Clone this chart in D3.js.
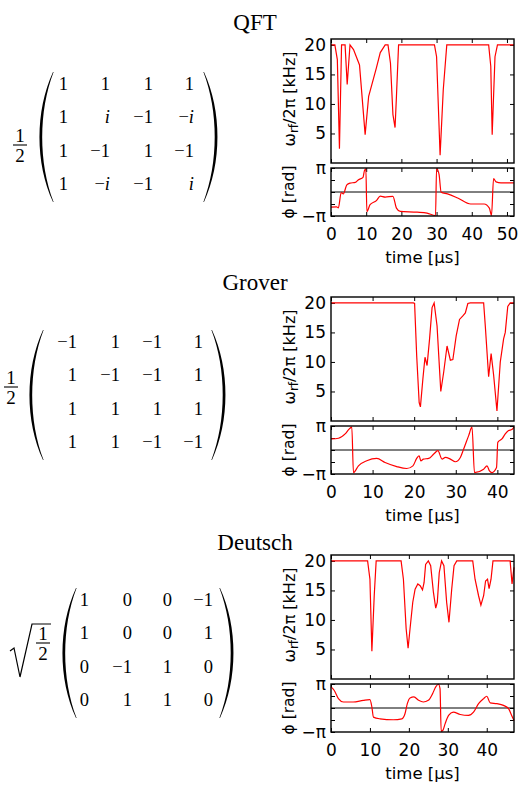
<!DOCTYPE html>
<html>
<head>
<meta charset="utf-8">
<script src="https://cdn.jsdelivr.net/npm/d3@7"></script>
<style>
body { margin: 0; background: #fff; }
</style>
</head>
<body>
<div id="chart"></div>
<script>
var canvasWidth = 519;
var canvasHeight = 785;

var titles = ["QFT", "Grover", "Deutsch"];

// gate matrices, row by row
var qftMatrix = [["1","1","1","1"], ["1","i","−1","−i"], ["1","−1","1","−1"], ["1","−i","−1","i"]];
var groverMatrix = [["−1","1","−1","1"], ["1","−1","−1","1"], ["1","1","1","1"], ["1","1","−1","−1"]];
var deutschMatrix = [["1","0","0","−1"], ["1","0","0","1"], ["0","−1","1","0"], ["0","1","1","0"]];

// axes
var timeEnds = [52, 44, 47];
var timeTicks = [[0,10,20,30,40,50], [0,10,20,30,40], [0,10,20,30,40]];
var freqTicks = [5, 10, 15, 20];
var phaseTicks = [-1, -0.5, 0, 0.5, 1];   // in units of pi

// QFT pulse: time [us], omega_rf/2pi [kHz], phase [pi]
var qftFreqTime = [0,1.1,1.8,2.4,3.0,4.0,4.6,5.4,6.4,8.1,9.7,10.7,12.9,14.0,15.4,16.2,16.9,17.6,18.2,18.6,19.2,29.4,30.0,31.0,31.9,32.9,44.8,45.4,45.8,46.6,47.3,52];
var qftFreq = [20,20,17.5,2.4,20,20,13.3,20,19.2,16.6,4.8,11.3,16.1,18.7,20,20,16.9,8.2,6.0,11.3,20,20,18.0,1.3,12.4,20,20,16.4,4.8,18,20,20];
var qftPhaseTime = [0,1.6,2.1,2.9,3.5,4.5,5.4,6.9,7.8,9.1,9.5,9.9,10.2,11.1,12.9,14.0,15.4,17.6,18.6,19.7,24.5,27.3,29.7,30.0,30.7,31.3,33.1,36,39.7,43.5,45,45.6,46.2,46.9,48.3,52];
var qftPhase = [-0.63,-0.62,-0.66,-0.02,-0.08,0.30,0.37,0.40,0.51,0.61,0.89,0.96,-0.82,-0.53,-0.36,-0.17,-0.21,-0.18,-0.67,-0.81,-0.84,-0.88,-0.98,0.98,0.73,-0.01,-0.08,-0.25,-0.50,-0.50,-0.67,-0.98,0.56,0.42,0.38,0.38];

// Grover pulse
var groverFreqTime = [0,19.8,20.1,20.6,21.2,21.5,22.1,22.6,23.1,23.7,24.3,24.8,25.5,26.4,27.1,27.9,28.7,29.3,30.1,30.9,31.7,32.3,32.9,33.5,36.7,37.1,37.9,38.5,39.1,39.9,40.7,41.5,41.9,42.5,43.1,44];
var groverFreq = [20,20,19.9,11.1,3.1,2.4,7.2,10.8,9.4,13.9,19.2,20,16.1,5,8.3,12.7,10.3,10.4,14.4,17.2,17.8,18.3,19.9,20,20,16.1,7.5,11.4,7.8,1.7,10,13.9,15,19.4,20,20];
var groverPhaseTime = [0,1.8,3.4,4.4,5.0,5.4,6.6,8.6,11.0,13.0,15.8,18.2,19.7,20.6,21.2,21.6,22.2,23.5,24.7,25.7,26.7,27.5,28.7,29.9,31.1,31.9,33.1,33.9,34.5,36.7,37.5,38.1,38.7,39.8,40.1,41.1,41.9,42.7,43.5,44];
var groverPhase = [0.46,0.49,0.67,0.88,0.95,-0.94,-0.66,-0.45,-0.35,-0.52,-0.69,-0.77,-0.66,-0.35,-0.24,-0.45,-0.38,-0.35,-0.17,-0.03,-0.38,-0.31,-0.38,-0.49,-0.31,0.04,0.60,0.95,-0.94,-0.80,-0.66,-0.87,-0.94,-0.73,0.32,0.46,0.67,0.81,0.85,0.95];

// Deutsch pulse
var deutschFreqTime = [0,9.4,10.0,10.5,11.1,11.6,18.0,18.6,19.3,19.8,20.3,21.0,21.6,22.3,22.9,23.5,23.9,24.3,25.0,25.6,26.3,26.9,27.3,27.8,28.4,29.0,29.7,30.3,31.0,31.6,32.3,36.4,37.0,37.9,38.5,39.2,39.7,40.2,40.6,41.1,41.6,46.0,46.5,47];
var deutschFreq = [20,20,16.9,4.7,14.1,20,20,16.9,8.5,5.2,8.5,13,15.2,16.1,15.8,15.1,16.3,19.4,20,19.2,14.7,12,13,18,20,19.2,13,9.6,15.2,19.2,20,20,16.9,14.1,12.5,14.1,16.6,16.9,15.3,16.9,20,20,16.1,18.9];
var deutschPhaseTime = [0,0.8,1.9,3.2,5.7,8.3,10.0,10.5,10.9,12.6,16.0,18.2,19.0,19.6,20.3,21.3,22.5,23.7,25.0,26.1,26.9,27.6,28.0,28.3,28.7,29.3,30.2,31.4,33.2,35.3,36.6,37.9,39.2,40.0,40.9,42.6,44.3,45.6,46.4,47];
var deutschPhase = [0.88,0.74,0.39,0.25,0.25,0.32,0.35,0.04,-0.38,-0.45,-0.49,-0.45,-0.24,0.18,0.42,0.46,0.32,0.25,0.32,0.60,0.88,0.99,0.81,-0.97,-0.94,-0.66,-0.31,-0.17,-0.27,-0.31,-0.17,0.18,0.39,0.49,0.21,0.18,0.11,-0.03,-0.31,-0.52];

var svg = d3.select("#chart")
    .append("svg")
    .attr("width", canvasWidth)
    .attr("height", canvasHeight);

var sansFont = "'DejaVu Sans', sans-serif";
var serifFont = "'Liberation Serif', 'Times New Roman', serif";

/*Layout of every panel: vertical step, plot frame, matrix placement*/
var panelStep = 258;
var plotLeft = 331, plotRight = 514;
var freqTop = 39, freqBottom = 163, phaseTop = 168, phaseBottom = 216;
var layouts = [
    {titleY: 30, cols: [68,110,153,194], parenL: 53, parenR: 204, fracX: 20, barY: 145},
    {titleY: 32, cols: [77,120,162,203], parenL: 43, parenR: 212, fracX: 11, barY: 129},
    {titleY: 34, cols: [89,132,172,213], parenL: 76, parenR: 220, fracX: 43, barY: 127, sqrt: true}
];
var rowBase = [90, 123, 157, 190];

function paren(g, xe, y0, y1, bulge, dir) {
    // dir -1 for "(", +1 for ")"
    var t = 2.6, h = y1 - y0;
    var c = bulge / 0.75, ci = (bulge - t) / 0.75;
    var p = "M" + xe + "," + y0 +
        "C" + (xe + dir * c) + "," + (y0 + h * 0.3) + " " + (xe + dir * c) + "," + (y1 - h * 0.3) + " " + xe + "," + y1 +
        "L" + (xe - dir * 0.6) + "," + y1 +
        "C" + (xe + dir * ci) + "," + (y1 - h * 0.3) + " " + (xe + dir * ci) + "," + (y0 + h * 0.3) + " " + (xe - dir * 0.6) + "," + y0 + "Z";
    g.append("path").attr("d", p).attr("fill", "#000");
}

function drawMatrix(g, m, lay) {
    m.forEach(function(row, r) {
        row.forEach(function(s, c) {
            var t = g.append("text")
                .attr("x", lay.cols[c])
                .attr("y", rowBase[r])
                .attr("text-anchor", "end")
                .attr("font-family", serifFont)
                .attr("font-size", 18.5);
            if (s.indexOf("i") >= 0) {
                t.append("tspan").text(s.replace("i", ""));
                t.append("tspan").attr("font-style", "italic").text("i");
            } else {
                t.text(s);
            }
        });
    });
    paren(g, lay.parenL, 72, 202, 13.5, -1);
    paren(g, lay.parenR, 72, 202, 13.5, 1);

    // prefactor 1/2
    g.append("text").attr("x", lay.fracX).attr("y", lay.barY - 3)
        .attr("text-anchor", "middle").attr("font-family", serifFont).attr("font-size", 19).text("1");
    g.append("line").attr("x1", lay.fracX - 7).attr("x2", lay.fracX + 7)
        .attr("y1", lay.barY).attr("y2", lay.barY).attr("stroke", "#000").attr("stroke-width", 1.1);
    g.append("text").attr("x", lay.fracX).attr("y", lay.barY + 17)
        .attr("text-anchor", "middle").attr("font-family", serifFont).attr("font-size", 19).text("2");
    if (lay.sqrt) {
        var top = lay.barY - 19;
        g.append("path")
            .attr("d", "M10," + (lay.barY + 8) + "L14," + (lay.barY + 5) + "L20," + (lay.barY + 34) +
                "L32," + top + "L" + (lay.fracX + 8) + "," + top)
            .attr("fill", "none").attr("stroke", "#000").attr("stroke-width", 1.2)
            .attr("stroke-linejoin", "miter");
    }
}

function styleAxis(a, size) {
    a.select(".domain").remove();
    a.selectAll("line").attr("stroke", "#000").attr("stroke-width", 1);
    a.selectAll("text").attr("font-family", sansFont).attr("font-size", size).attr("fill", "#000");
}

function drawPanel(i, matrix, fT, fV, pT, pV) {
    var lay = layouts[i];
    var g = svg.append("g").attr("transform", "translate(0," + (i * panelStep) + ")");

    g.append("text")
        .attr("x", 255).attr("y", lay.titleY)
        .attr("text-anchor", "middle")
        .attr("font-family", serifFont)
        .attr("font-size", 23)
        .text(titles[i]);

    drawMatrix(g, matrix, lay);

    /*Scales*/
    var x = d3.scaleLinear().domain([0, timeEnds[i]]).range([plotLeft, plotRight]);
    var yF = d3.scaleLinear().domain([0, 21]).range([freqBottom, freqTop]);
    var yP = d3.scaleLinear().domain([-1, 1]).range([phaseBottom, phaseTop]);

    /*Frequency panel axes*/
    styleAxis(g.append("g").attr("transform", "translate(" + plotLeft + ",0)")
        .call(d3.axisLeft(yF).tickValues(freqTicks).tickSize(-4).tickPadding(5)), 17);
    styleAxis(g.append("g").attr("transform", "translate(" + plotRight + ",0)")
        .call(d3.axisRight(yF).tickValues(freqTicks).tickSize(-4).tickFormat("")), 17);
    styleAxis(g.append("g").attr("transform", "translate(0," + freqBottom + ")")
        .call(d3.axisBottom(x).tickValues(timeTicks[i]).tickSize(-4).tickFormat("")), 17);
    styleAxis(g.append("g").attr("transform", "translate(0," + freqTop + ")")
        .call(d3.axisTop(x).tickValues(timeTicks[i]).tickSize(-4).tickFormat("")), 17);

    /*Phase panel axes*/
    styleAxis(g.append("g").attr("transform", "translate(" + plotLeft + ",0)")
        .call(d3.axisLeft(yP).tickValues(phaseTicks).tickSize(-4).tickPadding(5)
            .tickFormat(function(d) { return d === 1 ? "π" : (d === -1 ? "−π" : ""); })), 17);
    styleAxis(g.append("g").attr("transform", "translate(" + plotRight + ",0)")
        .call(d3.axisRight(yP).tickValues(phaseTicks).tickSize(-4).tickFormat("")), 17);
    styleAxis(g.append("g").attr("transform", "translate(0," + phaseBottom + ")")
        .call(d3.axisBottom(x).tickValues(timeTicks[i]).tickSize(-4).tickPadding(12)), 17);
    styleAxis(g.append("g").attr("transform", "translate(0," + phaseTop + ")")
        .call(d3.axisTop(x).tickValues(timeTicks[i]).tickSize(-4).tickFormat("")), 17);

    g.append("line")
        .attr("x1", x(0)).attr("x2", x(timeEnds[i]))
        .attr("y1", yP(0)).attr("y2", yP(0))
        .attr("stroke", "#000").attr("stroke-width", 1);

    /*Pulse curves*/
    g.append("path")
        .datum(d3.zip(fT, fV))
        .attr("fill", "none").attr("stroke", "#ff0000").attr("stroke-width", 1.2)
        .attr("d", d3.line().x(function(d) { return x(d[0]); }).y(function(d) { return yF(d[1]); }));
    g.append("path")
        .datum(d3.zip(pT, pV))
        .attr("fill", "none").attr("stroke", "#ff0000").attr("stroke-width", 1.2)
        .attr("d", d3.line().curve(d3.curveMonotoneX).x(function(d) { return x(d[0]); }).y(function(d) { return yP(d[1]); }));

    /*Frames*/
    g.append("rect").attr("x", plotLeft).attr("y", freqTop)
        .attr("width", plotRight - plotLeft).attr("height", freqBottom - freqTop)
        .attr("fill", "none").attr("stroke", "#000").attr("stroke-width", 1.4);
    g.append("rect").attr("x", plotLeft).attr("y", phaseTop)
        .attr("width", plotRight - plotLeft).attr("height", phaseBottom - phaseTop)
        .attr("fill", "none").attr("stroke", "#000").attr("stroke-width", 1.4);

    /*Axis labels*/
    var wl = g.append("text")
        .attr("transform", "translate(295," + ((freqTop + freqBottom) / 2 - 2) + ") rotate(-90)")
        .attr("text-anchor", "middle")
        .attr("font-family", sansFont).attr("font-size", 16);
    wl.append("tspan").text("ω");
    wl.append("tspan").attr("font-size", 12).attr("dy", 3).text("rf");
    wl.append("tspan").attr("dy", -3).text("/2π [kHz]");

    g.append("text")
        .attr("transform", "translate(294," + ((phaseTop + phaseBottom) / 2) + ") rotate(-90)")
        .attr("text-anchor", "middle")
        .attr("font-family", sansFont).attr("font-size", 15.5)
        .text("ϕ [rad]");

    g.append("text")
        .attr("x", (plotLeft + plotRight) / 2).attr("y", 263)
        .attr("text-anchor", "middle")
        .attr("font-family", sansFont).attr("font-size", 16.5)
        .text("time [µs]");
}

drawPanel(0, qftMatrix, qftFreqTime, qftFreq, qftPhaseTime, qftPhase);
drawPanel(1, groverMatrix, groverFreqTime, groverFreq, groverPhaseTime, groverPhase);
drawPanel(2, deutschMatrix, deutschFreqTime, deutschFreq, deutschPhaseTime, deutschPhase);
</script>
</body>
</html>
